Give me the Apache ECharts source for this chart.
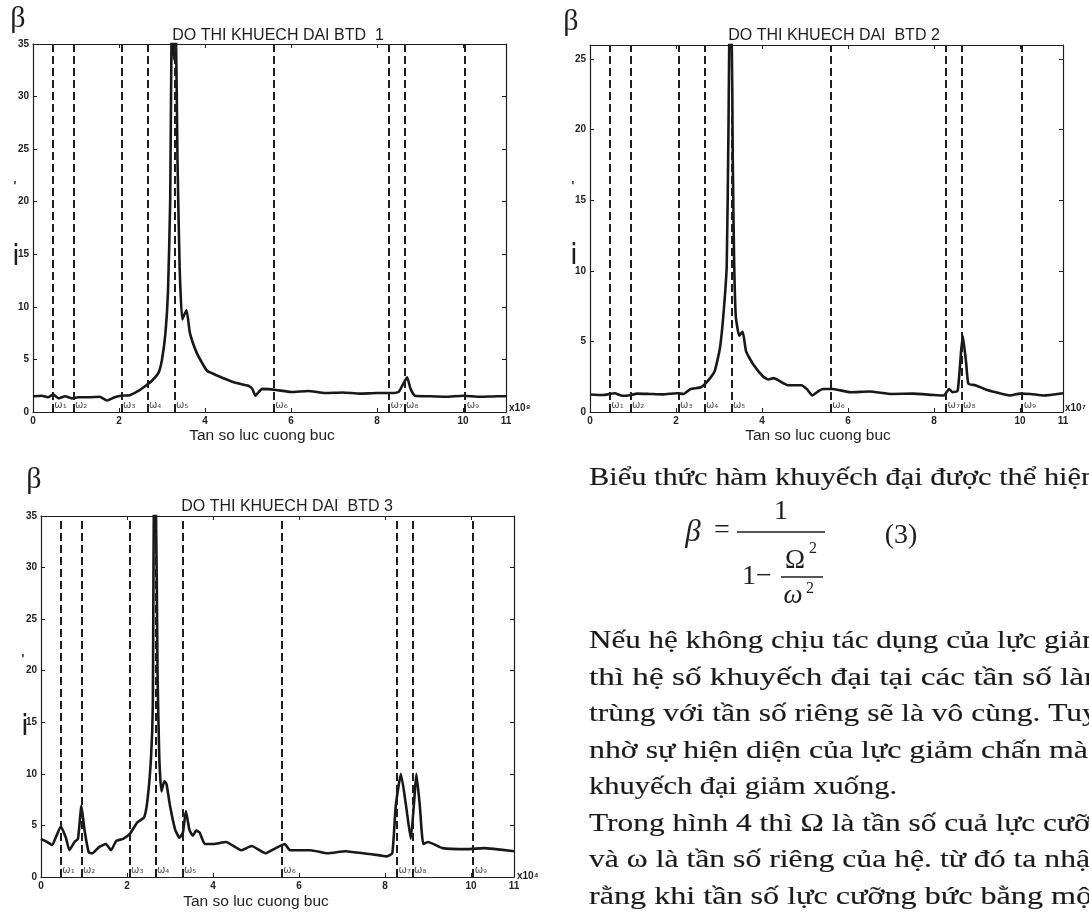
<!DOCTYPE html>
<html>
<head>
<meta charset="utf-8">
<script src="https://cdn.jsdelivr.net/npm/echarts@6/dist/echarts.min.js"></script>
<style>
  html, body { margin: 0; padding: 0; background: #fff; }
  #chart { width: 1089px; height: 915px; }
</style>
</head>
<body>
<div id="chart"></div>
<script>
// natural frequencies (dashed lines), same for the three plots
const omega = [0.46, 0.94, 2.06, 2.66, 3.29, 5.6, 8.28, 8.64, 10.05];
const omegaNames = ['ω₁', 'ω₂', 'ω₃', 'ω₄', 'ω₅', 'ω₆', 'ω₇', 'ω₈', 'ω₉'];
const xTickValues = [0, 2, 4, 6, 8, 10, 11];

// BTD 1
const freq1 = [0, 0.2, 0.35, 0.47, 0.6, 0.75, 0.9, 1.05, 1.3, 1.55, 1.72, 1.9, 2.05, 2.25, 2.45,
  2.62, 2.76, 2.92, 3.0, 3.08, 3.14, 3.19, 3.23, 3.28, 3.32, 3.36, 3.41, 3.47, 3.57, 3.65,
  3.81, 3.97, 4.05, 4.13, 4.37, 4.69, 5.01, 5.1, 5.17, 5.25, 5.33, 5.65, 6.0, 6.4, 6.8,
  7.2, 7.6, 8.0, 8.3, 8.5, 8.6, 8.7, 8.78, 8.88, 9.2, 9.6, 10.0, 10.4, 10.8, 11];
const amp1 = [1.5, 1.55, 1.4, 1.65, 1.3, 1.5, 1.3, 1.4, 1.4, 1.45, 1.1, 1.4, 1.55, 1.6, 2.0,
  2.5, 2.95, 3.75, 5.0, 7.5, 11.5, 20, 37, 33.5, 37, 24, 13.8, 8.8, 9.7, 7.5,
  5.6, 4.4, 3.9, 3.75, 3.3, 2.8, 2.5, 2.2, 1.55, 1.9, 2.2, 2.1, 1.9, 2.0, 1.8,
  1.85, 1.75, 1.8, 1.8, 1.9, 2.6, 3.3, 2.2, 1.55, 1.5, 1.45, 1.55, 1.45, 1.5, 1.5];

// BTD 2
const freq2 = [0, 0.3, 0.57, 0.75, 0.89, 1.1, 1.37, 1.7, 2.02, 2.18, 2.34, 2.58, 2.74, 2.9, 3.02,
  3.1, 3.18, 3.22, 3.25, 3.29, 3.32, 3.35, 3.39, 3.47, 3.55, 3.63, 3.79, 4.03, 4.15, 4.27,
  4.6, 4.92, 5.05, 5.17, 5.3, 5.41, 5.65, 6.06, 6.5, 7.02, 7.5, 8.0, 8.23, 8.35, 8.43,
  8.55, 8.63, 8.67, 8.75, 8.8, 8.96, 9.2, 9.44, 9.76, 10.0, 10.25, 10.55, 11];
const amp2 = [1.24, 1.2, 1.33, 1.15, 1.17, 1.3, 1.28, 1.25, 1.33, 1.28, 1.63, 1.75, 2.2, 2.9, 4.5,
  6.8, 10.4, 20, 28, 28, 18, 11, 6.8, 5.4, 5.7, 4.3, 3.4, 2.5, 2.3, 2.4,
  1.9, 1.9, 1.6, 1.17, 1.45, 1.63, 1.63, 1.4, 1.45, 1.28, 1.3, 1.2, 1.17, 1.63, 1.4,
  1.5, 4.3, 5.4, 3.4, 2.0, 1.9, 1.6, 1.4, 1.17, 1.3, 1.28, 1.17, 1.33];

// BTD 3
const freq3 = [0, 0.14, 0.26, 0.36, 0.46, 0.58, 0.66, 0.78, 0.86, 0.94, 1.01, 1.11, 1.19, 1.35, 1.51,
  1.63, 1.75, 1.91, 2.07, 2.24, 2.4, 2.48, 2.56, 2.6, 2.63, 2.67, 2.71, 2.75, 2.8, 2.87,
  2.92, 3.0, 3.12, 3.22, 3.3, 3.37, 3.45, 3.53, 3.61, 3.69, 3.81, 4.01, 4.3, 4.66, 4.9,
  5.22, 5.46, 5.67, 5.79, 6.27, 6.67, 7.08, 7.48, 7.88, 8.04, 8.17, 8.25, 8.37, 8.49, 8.6,
  8.69, 8.73, 8.81, 8.89, 9.0, 9.34, 9.9, 10.3, 11];
const amp3 = [3.7, 3.4, 3.1, 4.0, 4.9, 3.8, 2.6, 3.4, 3.7, 6.9, 4.6, 2.4, 2.3, 2.9, 3.2,
  2.6, 3.5, 3.7, 4.2, 5.3, 5.8, 7.6, 11.7, 16.6, 37, 37, 19.7, 11.7, 8.3, 9.3,
  9.0, 6.9, 4.6, 3.8, 4.3, 6.4, 4.6, 4.0, 4.5, 4.3, 3.2, 3.2, 3.4, 2.6, 3.0,
  2.3, 2.8, 3.2, 2.6, 2.6, 2.3, 2.5, 2.3, 2.1, 2.0, 2.3, 6.9, 10.0, 6.9, 3.7,
  8.0, 10.0, 6.9, 3.2, 3.4, 2.8, 2.7, 2.8, 2.5];

const plots = [
  { title: 'DO THI KHUECH DAI BTD  1', yMax: 35, xs: freq1, ys: amp1, exp: 'x10⁸' },
  { title: 'DO THI KHUECH DAI  BTD 2', yMax: 26, xs: freq2, ys: amp2, exp: 'x10⁷' },
  { title: 'DO THI KHUECH DAI  BTD 3', yMax: 35, xs: freq3, ys: amp3, exp: 'x10⁴' }
];

const paraLines = [
  'Biểu thức hàm khuyếch đại được thể hiện:',
  'Nếu hệ không chịu tác dụng của lực giảm chấn',
  'thì hệ số khuyếch đại tại các tần số làm việc',
  'trùng với tần số riêng sẽ là vô cùng. Tuy nhiên',
  'nhờ sự hiện diện của lực giảm chấn mà hệ số',
  'khuyếch đại giảm xuống.',
  'Trong hình 4 thì Ω là tần số cuả lực cưỡng bức',
  'và ω là tần số riêng của hệ. từ đó ta nhận thấy',
  'rằng khi tần số lực cưỡng bức bằng một'
];

// ---- layout ----
const grids = [
  { left: 33, top: 44, width: 473, height: 368 },
  { left: 590, top: 45, width: 473, height: 367 },
  { left: 41, top: 516, width: 473, height: 361 }
];
const ink = '#1e1e1e';
const lab = { color: '#222', fontSize: 10, fontWeight: 'bold', fontFamily: 'Liberation Sans', margin: 4 };
const tick = { inside: true, length: 4, lineStyle: { color: ink, width: 1 } };
const axLine = { show: true, onZero: false, lineStyle: { color: ink, width: 1.2 } };

const xAxis = [], yAxis = [], series = [];
plots.forEach((p, g) => {
  xAxis.push(
    { gridIndex: g, type: 'value', min: 0, max: 11, position: 'bottom', axisLine: axLine,
      splitLine: { show: false }, axisTick: { ...tick, customValues: xTickValues },
      axisLabel: { ...lab, customValues: xTickValues } },
    { gridIndex: g, type: 'value', min: 0, max: 11, position: 'top', axisLine: axLine,
      splitLine: { show: false }, axisTick: { ...tick, customValues: xTickValues },
      axisLabel: { show: false } }
  );
  yAxis.push(
    { gridIndex: g, type: 'value', min: 0, max: p.yMax, interval: 5, position: 'left', axisLine: axLine,
      splitLine: { show: false }, axisTick: tick,
      axisLabel: { ...lab, showMaxLabel: p.yMax % 5 === 0 } },
    { gridIndex: g, type: 'value', min: 0, max: p.yMax, interval: 5, position: 'right', axisLine: axLine,
      splitLine: { show: false }, axisTick: tick, axisLabel: { show: false } }
  );
  series.push({
    type: 'line', xAxisIndex: g * 2, yAxisIndex: g * 2,
    data: p.xs.map((x, k) => [x, p.ys[k]]),
    showSymbol: false, smooth: 0.15, clip: true, z: 3,
    lineStyle: { color: '#181818', width: 2.6 },
    markLine: {
      silent: true, symbol: ['none', 'none'], label: { show: false },
      lineStyle: { color: ink, width: 2, type: [8, 4] },
      data: omega.map(w => ({ xAxis: w }))
    }
  });
  series.push({
    type: 'scatter', xAxisIndex: g * 2, yAxisIndex: g * 2, silent: true,
    data: omega.map(w => [w, 0]), symbolSize: 1, itemStyle: { color: 'rgba(0,0,0,0)' },
    label: {
      show: true, position: 'right', distance: 1, offset: [0, -7],
      formatter: q => omegaNames[q.dataIndex],
      fontSize: 10, color: ink, fontFamily: 'DejaVu Sans'
    }
  });
});

// ---- texts ----
const graphic = [];
function txt(x, y, text, font, style) {
  graphic.push({ type: 'text', x: x, y: y, silent: true,
    style: Object.assign({ text: text, font: font, fill: ink, align: 'center', verticalAlign: 'middle' }, style || {}) });
}
function hline(x1, x2, y, w) {
  graphic.push({ type: 'line', silent: true, shape: { x1: x1, y1: y, x2: x2, y2: y }, style: { stroke: ink, lineWidth: w } });
}
const serif = '"Liberation Serif", "DejaVu Serif", serif';
const sans = '"Liberation Sans", Arial, sans-serif';

const deco = [
  { beta: [18, 19], title: [278, 36], name: [262, 436], exp: [509, 408], tickMark: [15, 187], iMark: [16, 258] },
  { beta: [571, 22], title: [834, 36], name: [818, 436], exp: [1065, 408], tickMark: [573, 187], iMark: [574, 257] },
  { beta: [34, 480], title: [287, 507], name: [256, 902], exp: [517, 876], tickMark: [23, 660], iMark: [25, 728] }
];
plots.forEach((p, g) => {
  const d = deco[g];
  txt(d.beta[0], d.beta[1], 'β', '30px ' + serif);
  txt(d.title[0], d.title[1], p.title, '16px ' + sans);
  txt(d.name[0], d.name[1], 'Tan so luc cuong buc', '15.5px ' + sans);
  txt(d.exp[0], d.exp[1], p.exp, 'bold 10px ' + sans, { align: 'left' });
  txt(d.tickMark[0], d.tickMark[1], "'", 'bold 12px ' + sans);
  txt(d.iMark[0], d.iMark[1], 'i', '28px "DejaVu Sans"');
});

// formula (3)
txt(693, 533, 'β', 'italic 31px ' + serif);
txt(722, 531, '=', '28px ' + serif);
hline(737, 825, 532, 1.6);
txt(781, 512, '1', '28px ' + serif);
txt(757, 577, '1−', '28px ' + serif);
hline(781, 823, 577, 1.3);
txt(795, 561, 'Ω', '27px ' + serif);
txt(813, 549, '2', '16px ' + serif);
txt(793, 596, 'ω', 'italic 27px ' + serif);
txt(810, 589, '2', '16px ' + serif);
txt(901, 536, '(3)', '28px ' + serif);

// paragraph, stretched like the justified scan
const paraFont = '26px ' + serif;
const paraLeft = 589;
const paraFirst = [477.7, 641.2], paraStep = 36.5;
const fit = [
  ['Biểu thức hàm khuyếch đại được thể hiệ', 1081],
  ['Nếu hệ không chịu tác dụng của lực giả', 1082],
  ['thì hệ số khuyếch đại tại các tần số là', 1084],
  ['trùng với tần số riêng sẽ là vô cùng. Tu', 1082],
  ['nhờ sự hiện diện của lực giảm chấn mà', 1088],
  ['khuyếch đại giảm xuống.', 897],
  ['Trong hình 4 thì Ω là tần số cuả lực cư', 1074],
  ['và ω là tần số riêng của hệ. từ đó ta nh', 1076],
  ['rằng khi tần số lực cưỡng bức bằng m', 1076]
];
const ctx = document.createElement('canvas').getContext('2d');
ctx.font = paraFont;
paraLines.forEach((line, i) => {
  const y = i === 0 ? paraFirst[0] : paraFirst[1] + (i - 1) * paraStep;
  const s = (fit[i][1] - paraLeft) / ctx.measureText(fit[i][0]).width;
  graphic.push({ type: 'text', x: paraLeft, y: y, scaleX: s, silent: true,
    style: { text: line, font: paraFont, fill: '#1a1a1a', stroke: '#1a1a1a', lineWidth: 0.15,
      align: 'left', verticalAlign: 'middle' } });
});

const chart = echarts.init(document.getElementById('chart'));
chart.setOption({
  backgroundColor: '#ffffff',
  animation: false,
  grid: grids,
  xAxis: xAxis,
  yAxis: yAxis,
  series: series,
  graphic: graphic
});
</script>
</body>
</html>
